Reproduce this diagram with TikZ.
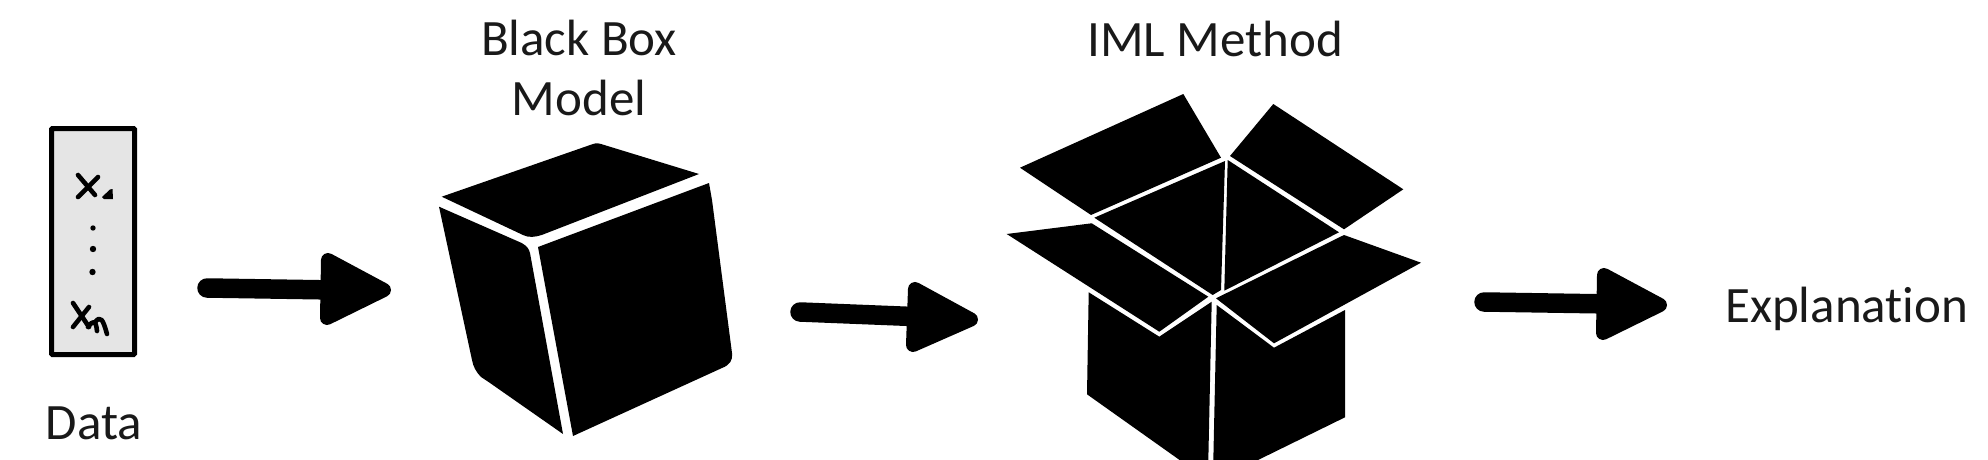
\documentclass[tikz,border=0pt]{standalone}
\usepackage{fontspec}
\setmainfont[RawFeature={-liga;-dlig;-clig}]{Carlito}
\tikzset{
  label text/.style={font=\fontsize{51}{60}\selectfont, text=black!90, inner sep=0pt, align=center},
  flowshaft/.style={line width=19.5pt, line cap=round, black},
  flowhead/.style={fill=black, draw=black, line width=14pt, line join=round},
  solid shape/.style={fill=black, draw=none},
  ink/.style={line width=4.6pt, line cap=round, line join=round, black},
}
\begin{document}
\begin{tikzpicture}[x=1pt,y=-1pt]
\useasboundingbox (0,0) rectangle (1988,460);
\clip (0,0) rectangle (1988,460);
% data box
\node[draw=black, fill=black!10, line width=5pt, minimum width=83pt, minimum height=226pt, inner sep=0pt, rounded corners=1pt] (data) at (93,241.5) {};
\draw[ink] (78,175) -- (95,195);
\draw[ink] (98,177) -- (78,197);
\fill[black] (102,197) -- (110,189.5) -- (112.5,189) -- (113,199) -- (104,199) -- cycle;
\fill[black] (93,228) circle (2.7pt);
\fill[black] (93,249) circle (3.2pt);
\fill[black] (92.5,272) circle (3.2pt);
\draw[ink] (73,303) -- (89,327);
\draw[ink] (89,307) -- (73,327);
\draw[ink] (88,327) .. controls (93,320) and (96,320) .. (97,331);
\draw[ink] (95,322) .. controls (101,315) and (103,320) .. (107,334);
\node[label text] (datalabel) at (94,423) {Data};
% black box
\path[solid shape] (441.7,196.7) -- (593,144) .. controls (597,143) and (598,143) .. (601,144) -- (699,174) -- (541.7,235) .. controls (535,237) and (529,238) .. (523,235) -- cycle;
\path[solid shape] (439,206.7) -- (521.7,243) .. controls (527,246) and (529,249) .. (530,253) -- (563,434) -- (490,383) -- (481,377) .. controls (476,372) and (473,366) .. (472,360) -- cycle;
\path[solid shape] (538,247) -- (709,183) -- (712,200) -- (732,353) .. controls (733,360) and (730,365) .. (722,368) -- (573,436) -- cycle;
\node[label text] (bbm) at (579,68) {Black Box\\Model};
% open box
\path[solid shape] (1020,167.7) -- (1183.3,94) -- (1221,157.7) -- (1091,215) -- cycle;
\path[solid shape] (1273.3,104) -- (1403.3,189.3) -- (1344,229.3) -- (1230,156) -- cycle;
\path[solid shape] (1094.3,217.7) -- (1225,161) -- (1221,290) -- (1212.7,295) -- cycle;
\path[solid shape] (1227.7,160) -- (1339,232.3) -- (1224.3,290.7) -- cycle;
\path[solid shape] (1006.7,234) -- (1091.7,223.3) -- (1208.3,296.7) -- (1159.3,331.7) -- cycle;
\path[solid shape] (1344,235) -- (1421,262.7) -- (1274,343.3) -- (1216,298.3) -- cycle;
\path[solid shape] (1088.7,292.3) -- (1159.3,336.7) -- (1211.7,301.7) -- (1208.3,461) -- (1181,461) -- (1087,394.3) -- cycle;
\path[solid shape] (1216.7,305) -- (1274,347.7) -- (1345,310) -- (1345,417.3) -- (1256,461) -- (1213.3,461) -- cycle;
\node[label text] (iml) at (1215,39) {IML Method};
\node[label text, anchor=west] (expl) at (1725,309) {Explanation};
% arrows
\coordinate (a1s) at (207,288);
\coordinate (a1e) at (335,290);
\coordinate (a2s) at (800,312);
\coordinate (a2e) at (925,317);
\coordinate (a3s) at (1484,302);
\coordinate (a3e) at (1612,304);
\draw[flowshaft] (a1s) -- (a1e);
\draw[flowshaft] (a2s) -- (a2e);
\draw[flowshaft] (a3s) -- (a3e);
\path[flowhead] (328,260) -- (384,290) -- (327,318) -- cycle;
\path[flowhead] (915,289) -- (971,319.5) -- (913,345) -- cycle;
\path[flowhead] (1604,275) -- (1660,305) -- (1603,333) -- cycle;
\end{tikzpicture}
\end{document}
